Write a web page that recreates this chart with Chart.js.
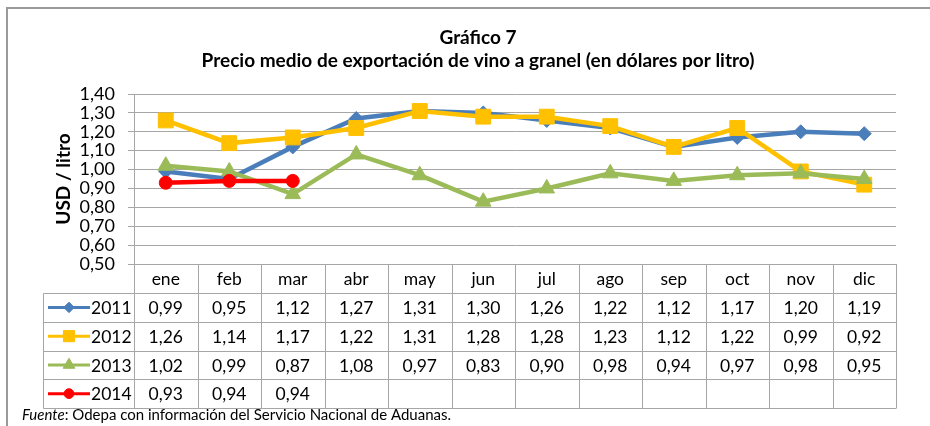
<!DOCTYPE html>
<html lang="es">
<head>
<meta charset="utf-8">
<title>Gráfico 7</title>
<script src="https://cdn.jsdelivr.net/npm/chart.js@4.4.1/dist/chart.umd.min.js"></script>
<style>
  html, body { margin: 0; padding: 0; background: #fff; }
  #contenedor { width: 930px; height: 426px; position: relative; }
</style>
</head>
<body>
<div id="contenedor"><canvas id="graficoVino"></canvas></div>
<script>
// Datos del gráfico 7: precio medio de exportación de vino a granel
const meses = ['ene', 'feb', 'mar', 'abr', 'may', 'jun', 'jul', 'ago', 'sep', 'oct', 'nov', 'dic'];
const anios = ['2011', '2012', '2013', '2014'];

const precio2011 = [0.99, 0.95, 1.12, 1.27, 1.31, 1.30, 1.26, 1.22, 1.12, 1.17, 1.20, 1.19];
const precio2012 = [1.26, 1.14, 1.17, 1.22, 1.31, 1.28, 1.28, 1.23, 1.12, 1.22, 0.99, 0.92];
const precio2013 = [1.02, 0.99, 0.87, 1.08, 0.97, 0.83, 0.90, 0.98, 0.94, 0.97, 0.98, 0.95];
const precio2014 = [0.93, 0.94, 0.94, null, null, null, null, null, null, null, null, null];

const ejeYMin = 0.5;
const ejeYMax = 1.4;
const ejeYPaso = 0.1;

const titulo = 'Gráfico 7';
const subtitulo = 'Precio medio de exportación de vino a granel (en dólares por litro)';
const tituloEjeY = 'USD / litro';

const fuente = 'Lato, "Liberation Sans", sans-serif';
const gris = '#A6A6A6';

const formato = v => (v === null || v === undefined) ? '' : v.toFixed(2).replace('.', ',');

// Tabla de datos bajo el gráfico, alineada con la escala x
const tablaDatos = {
  id: 'tablaDatos',
  afterDraw(chart) {
    const { ctx, chartArea, scales: { x } } = chart;
    const izq = chartArea.left;
    const der = chartArea.right;
    const yCat = chartArea.bottom;
    const altoCat = 29;
    const altoFila = 28.75;
    const xLeyenda = 43;
    const anchoCol = (der - izq) / meses.length;
    const yFilas = yCat + altoCat;
    const yFin = yFilas + altoFila * anios.length;
    const p = v => Math.round(v) + 0.5;

    ctx.save();
    // marco exterior
    ctx.strokeStyle = '#9A9A9A';
    ctx.lineWidth = 2;
    ctx.beginPath();
    ctx.moveTo(7, 430);
    ctx.lineTo(7, 8);
    ctx.lineTo(935, 8);
    ctx.stroke();

    // títulos
    ctx.fillStyle = '#000';
    ctx.textAlign = 'center';
    ctx.textBaseline = 'middle';
    ctx.font = 'bold 19px ' + fuente;
    ctx.fillText(titulo, 478, 38);
    ctx.fillText(subtitulo, 478, 61);

    // líneas de la tabla
    ctx.strokeStyle = gris;
    ctx.lineWidth = 1;
    ctx.beginPath();
    for (let i = 0; i <= meses.length; i++) {
      const xx = p(izq + i * anchoCol);
      ctx.moveTo(xx, yCat);
      ctx.lineTo(xx, yFin);
    }
    ctx.moveTo(p(xLeyenda), p(yFilas));
    ctx.lineTo(p(xLeyenda), p(yFin));
    for (let r = 0; r <= anios.length; r++) {
      const yy = p(yFilas + r * altoFila);
      ctx.moveTo(p(xLeyenda), yy);
      ctx.lineTo(p(der), yy);
    }
    ctx.stroke();

    // meses
    ctx.font = '17.5px ' + fuente;
    ctx.fillStyle = '#000';
    meses.forEach((m, i) => {
      ctx.fillText(m, x.getPixelForValue(i), yCat + altoCat / 2 + 1);
    });

    // filas de valores con su clave de leyenda
    chart.data.datasets.forEach((ds, r) => {
      const yc = yFilas + altoFila * r + altoFila / 2 + 1;
      ctx.textAlign = 'center';
      ds.data.forEach((v, i) => {
        ctx.fillText(formato(v), x.getPixelForValue(i), yc);
      });
      ctx.strokeStyle = ds.borderColor;
      ctx.lineWidth = 3;
      ctx.beginPath();
      ctx.moveTo(48, yc - 1);
      ctx.lineTo(90, yc - 1);
      ctx.stroke();
      ctx.fillStyle = ds.backgroundColor;
      ctx.strokeStyle = ds.borderColor;
      ctx.lineWidth = 1;
      Chart.helpers.drawPoint(ctx, {
        pointStyle: ds.pointStyle,
        radius: ds.pointRadius * 0.75,
        rotation: 0,
        borderWidth: 1
      }, 69, yc - 1);
      ctx.fillStyle = '#000';
      ctx.textAlign = 'left';
      ctx.fillText(anios[r], 91, yc);
    });

    // nota de fuente
    ctx.textAlign = 'left';
    ctx.font = 'italic 15px ' + fuente;
    ctx.fillText('Fuente', 22, 415);
    const w = ctx.measureText('Fuente').width;
    ctx.font = '15px ' + fuente;
    ctx.fillText(': Odepa con información del Servicio Nacional de Aduanas.', 22 + w, 415);
    ctx.restore();
  }
};

const serie = (label, data, color, estilo, radio, orden) => ({
  label: label,
  data: data,
  borderColor: color,
  backgroundColor: color,
  borderWidth: 4.5,
  pointStyle: estilo,
  pointRadius: radio,
  pointHoverRadius: radio,
  pointBorderWidth: 1,
  pointBackgroundColor: color,
  pointBorderColor: color,
  order: orden,
  tension: 0,
  spanGaps: false
});

const dataVino = {
  labels: meses,
  datasets: [
    serie(anios[0], precio2011, '#4A7EBB', 'rectRot', 7, 4),
    serie(anios[1], precio2012, '#FFC000', 'rect', 10.5, 3),
    serie(anios[2], precio2013, '#9BBB59', 'triangle', 9, 2),
    serie(anios[3], precio2014, '#FF0000', 'circle', 6.5, 1)
  ]
};

const configVino = {
  type: 'line',
  data: dataVino,
  plugins: [tablaDatos],
  options: {
    responsive: true,
    maintainAspectRatio: false,
    animation: false,
    layout: {
      padding: { left: 0, top: 94, right: 34, bottom: 162 }
    },
    plugins: {
      legend: { display: false },
      title: { display: false },
      tooltip: { enabled: false }
    },
    scales: {
      x: {
        display: false,
        offset: true
      },
      y: {
        min: ejeYMin,
        max: ejeYMax,
        afterFit: s => { s.width = 134; },
        ticks: {
          stepSize: ejeYPaso,
          autoSkip: false,
          padding: 13,
          color: '#000',
          font: { family: fuente, size: 18 },
          callback: v => formato(v)
        },
        grid: {
          color: gris,
          lineWidth: 1,
          tickLength: 6,
          drawTicks: true
        },
        border: { display: true, color: gris, width: 1 },
        title: {
          display: true,
          text: tituloEjeY,
          color: '#000',
          font: { family: fuente, size: 19, weight: 'bold' },
          padding: { top: 52, bottom: 0 }
        }
      }
    }
  }
};

const graficoVino = new Chart(
  document.getElementById('graficoVino'),
  configVino
);
</script>
</body>
</html>
